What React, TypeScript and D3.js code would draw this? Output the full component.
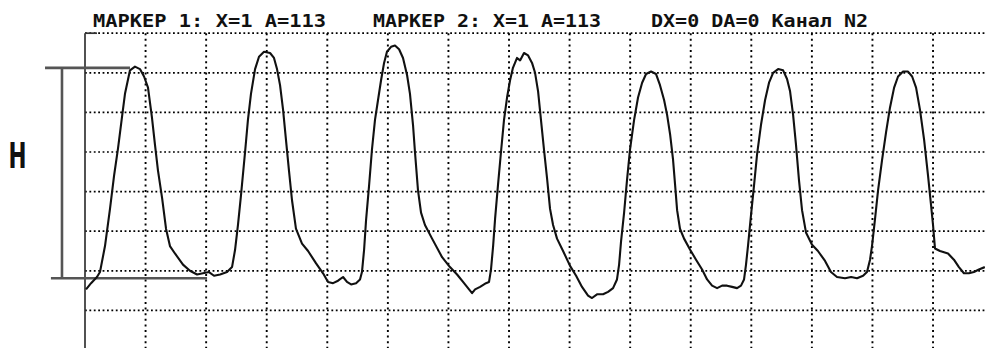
import React from "react";
import * as d3 from "d3";

// pulse wave trace: time (s) and amplitude (ADC units, 0..256)
const timeSec = [
  0.007, 0.04, 0.079, 0.099, 0.132, 0.165, 0.192, 0.218, 0.244, 0.264, 0.297, 0.33, 0.363, 0.39, 0.416, 0.442,
  0.462, 0.482, 0.509, 0.535, 0.561, 0.594, 0.647, 0.693, 0.74, 0.779, 0.819, 0.852, 0.892, 0.938, 0.971, 0.991,
  1.01, 1.03, 1.057, 1.076, 1.096, 1.123, 1.149, 1.182, 1.222, 1.248, 1.268, 1.288, 1.308, 1.327, 1.347, 1.367,
  1.393, 1.433, 1.473, 1.526, 1.572, 1.605, 1.638, 1.671, 1.704, 1.73, 1.757, 1.79, 1.816, 1.829, 1.843, 1.856,
  1.876, 1.895, 1.915, 1.935, 1.955, 1.975, 1.994, 2.021, 2.047, 2.074, 2.1, 2.127, 2.146, 2.166, 2.179, 2.199,
  2.219, 2.245, 2.292, 2.358, 2.41, 2.457, 2.503, 2.536, 2.556, 2.576, 2.609, 2.648, 2.668, 2.681, 2.695, 2.708,
  2.727, 2.747, 2.767, 2.787, 2.807, 2.826, 2.853, 2.873, 2.899, 2.926, 2.952, 2.972, 2.992, 3.011, 3.031, 3.051,
  3.071, 3.091, 3.117, 3.157, 3.203, 3.243, 3.282, 3.322, 3.348, 3.381, 3.421, 3.454, 3.487, 3.513, 3.527, 3.54,
  3.56, 3.579, 3.599, 3.626, 3.652, 3.679, 3.705, 3.738, 3.771, 3.797, 3.824, 3.844, 3.864, 3.883, 3.897, 3.91,
  3.929, 3.956, 3.996, 4.035, 4.075, 4.108, 4.141, 4.174, 4.207, 4.24, 4.273, 4.306, 4.332, 4.352, 4.365, 4.378,
  4.398, 4.418, 4.438, 4.464, 4.491, 4.517, 4.544, 4.577, 4.61, 4.636, 4.656, 4.676, 4.695, 4.715, 4.735, 4.761,
  4.801, 4.84, 4.887, 4.926, 4.966, 5.019, 5.059, 5.098, 5.138, 5.164, 5.184, 5.197, 5.217, 5.237, 5.264, 5.29,
  5.316, 5.343, 5.369, 5.402, 5.435, 5.462, 5.488, 5.514, 5.541, 5.567, 5.587, 5.6, 5.613, 5.646, 5.699, 5.738,
  5.771, 5.804, 5.837, 5.87, 5.903, 5.942,
];

const amplitude = [
  49, 54, 59, 63, 84, 114, 141, 163, 188, 207, 226, 229, 227, 221, 212, 188,
  166, 145, 123, 98, 84, 78, 69, 64, 61, 62, 63, 60, 61, 63, 67, 81,
  101, 125, 160, 186, 207, 227, 237, 241, 240, 236, 227, 214, 194, 170, 145, 121,
  98, 86, 80, 70, 62, 55, 54, 56, 59, 55, 53, 54, 57, 63, 81, 105,
  133, 162, 186, 202, 218, 232, 241, 245, 246, 243, 236, 222, 207, 182, 160, 129,
  111, 101, 90, 75, 67, 61, 54, 49, 46, 49, 51, 54, 55, 65, 84, 106,
  133, 160, 186, 204, 218, 228, 236, 234, 240, 238, 232, 224, 209, 186, 162, 139,
  114, 101, 90, 80, 68, 60, 51, 44, 42, 45, 45, 47, 50, 57, 69, 88,
  111, 137, 162, 186, 204, 216, 223, 225, 223, 214, 202, 190, 174, 154, 133, 113,
  98, 90, 81, 73, 65, 57, 52, 50, 52, 52, 51, 50, 52, 57, 69, 84,
  109, 133, 158, 182, 202, 216, 224, 227, 226, 219, 209, 190, 166, 137, 113, 95,
  85, 80, 72, 63, 59, 58, 59, 58, 60, 63, 73, 84, 106, 129, 154, 176,
  196, 212, 221, 225, 225, 221, 212, 194, 170, 141, 117, 101, 82, 80, 78, 73,
  67, 62, 62, 63, 65, 67,
];

// grid divisions
const timeGrid = [0.4, 0.8, 1.2, 1.6, 2.0, 2.4, 2.8, 3.2, 3.6, 4.0, 4.4, 4.8, 5.2, 5.6, 6.0];
const ampGrid = [32, 64, 96, 128, 160, 192, 224, 256];

// H marker (first pulse height)
const hTop = 228;
const hBottom = 58;
const hTime = -0.152;
const hTopFrom = -0.264;
const hTopTo = 0.297;
const hBottomFrom = -0.225;
const hBottomTo = 0.806;

const headers = [
  { text: "МАРКЕР 1: X=1 А=113", x: 93, len: 233 },
  { text: "МАРКЕР 2: X=1 А=113", x: 373, len: 228 },
  { text: "DX=0 DA=0 Канал N2", x: 651, len: 217 },
];

const width = 985;
const height = 348;

export default function App() {
  const x = d3.scaleLinear().domain([0, 6]).range([85, 993.6]);
  const y = d3.scaleLinear().domain([0, 256]).range([350, 33.2]);

  const points: [number, number][] = timeSec.map((t, i) => [t, amplitude[i]]);
  const line = d3
    .line<[number, number]>()
    .x((d) => x(d[0]))
    .y((d) => y(d[1]));

  return (
    <svg
      width={width}
      height={height}
      style={{ position: "absolute", left: 0, top: 0, background: "#ffffff" }}
    >
      {/* dotted grid */}
      {ampGrid.map((a) => (
        <line
          key={"h" + a}
          x1={x(0)}
          x2={width}
          y1={y(a)}
          y2={y(a)}
          stroke="#000"
          strokeWidth={1.7}
          strokeDasharray="1.8 2.6"
        />
      ))}
      {timeGrid.map((t) => (
        <line
          key={"v" + t}
          x1={x(t)}
          x2={x(t)}
          y1={y(256)}
          y2={height}
          stroke="#000"
          strokeWidth={1.9}
          strokeDasharray="2 3.6"
        />
      ))}
      {/* left axis */}
      <line x1={x(0)} x2={x(0)} y1={y(256)} y2={height} stroke="#333" strokeWidth={1.7} />
      <line x1={x(0)} x2={x(0) + 12} y1={y(256)} y2={y(256)} stroke="#333" strokeWidth={1.7} />

      {/* H marker */}
      <g stroke="#555" strokeWidth={2.6}>
        <line x1={x(hTopFrom)} x2={x(hTopTo)} y1={y(hTop)} y2={y(hTop)} />
        <line x1={x(hBottomFrom)} x2={x(hBottomTo)} y1={y(hBottom)} y2={y(hBottom)} />
        <line x1={x(hTime)} x2={x(hTime)} y1={y(hTop)} y2={y(hBottom)} />
      </g>
      <text
        x={8.5}
        y={168}
        fontFamily="DejaVu Sans"
        fontWeight="bold"
        fontSize={36}
        textLength={18}
        lengthAdjust="spacingAndGlyphs"
        fill="#111"
      >
        H
      </text>

      {/* pulse trace */}
      <path d={line(points) || ""} fill="none" stroke="#111" strokeWidth={2.1} strokeLinejoin="round" />

      {/* header */}
      {headers.map((h) => (
        <text
          key={h.text}
          x={h.x}
          y={27}
          fontFamily="DejaVu Sans Mono"
          fontWeight="bold"
          fontSize={18}
          textLength={h.len}
          lengthAdjust="spacingAndGlyphs"
          fill="#111"
        >
          {h.text}
        </text>
      ))}
    </svg>
  );
}
